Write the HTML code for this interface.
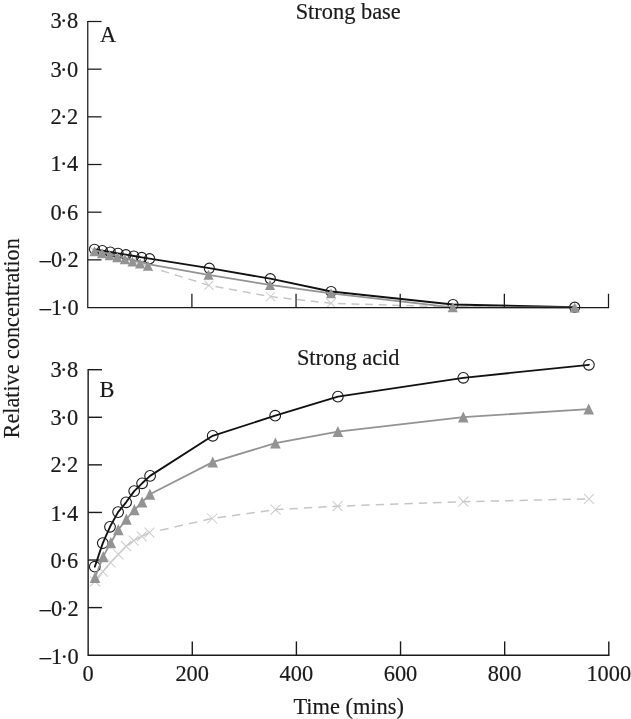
<!DOCTYPE html>
<html lang="en"><head><meta charset="utf-8"><title>Relative concentration vs time</title>
<style>
html,body{margin:0;padding:0;background:#fff;}
body{width:631px;height:719px;overflow:hidden;}
svg{display:block;}
text{font-family:"Liberation Serif","DejaVu Serif",serif;font-size:22.4px;fill:#1a1a1a;stroke:#1a1a1a;stroke-width:0.18px;}
</style></head><body>
<svg width="631" height="719" viewBox="0 0 631 719">
<rect x="0" y="0" width="631" height="719" fill="#ffffff"/>
<g fill="none" stroke="#c6c6c6" stroke-width="1.5">
<polyline points="94.5,251.2 102.1,253.2 109.7,255.2 117.3,257.3 124.9,259.3 132.5,261.4 140.1,263.5 148.0,266.5"/>
<path d="M161.1,270.5 L169.0,272.9 M174.7,274.7 L182.6,277.1 M188.3,278.9 L196.2,281.3 M201.9,283.1 L208.9,285.2 L209.8,285.4 M215.5,286.4 L223.4,287.9 M229.1,288.9 L237.0,290.4 M242.7,291.4 L250.6,292.9 M256.3,294.0 L264.2,295.4 M269.9,296.5 L270.6,296.6 L277.8,297.4 M283.5,298.0 L291.4,298.9 M297.1,299.5 L305.0,300.4 M310.7,301.0 L318.6,301.9 M324.3,302.6 L331.0,303.3 L332.2,303.3 M337.9,303.5 L345.8,303.8 M351.5,303.9 L359.4,304.2 M365.1,304.3 L373.0,304.6 M378.7,304.8 L386.6,305.0 M392.3,305.2 L400.2,305.4 M405.9,305.6 L413.8,305.8 M419.5,306.0 L427.4,306.2 M433.1,306.4 L441.0,306.7 M446.7,306.8 L452.4,307.0 L454.6,307.0 M460.3,307.0 L468.2,307.1 M473.9,307.1 L481.8,307.1 M487.5,307.1 L495.4,307.2 M501.1,307.2 L509.0,307.2 M514.7,307.3 L522.6,307.3 M528.3,307.3 L536.2,307.3 M541.9,307.4 L549.8,307.4 M555.5,307.4 L563.4,307.5 M569.1,307.5 L574.6,307.5"/>
</g>
<g fill="none" stroke="#cecece" stroke-width="1.05">
<path d="M89.9,246.6 l9.2,9.2 M89.9,255.8 l9.2,-9.2"/>
<path d="M97.5,248.6 l9.2,9.2 M97.5,257.8 l9.2,-9.2"/>
<path d="M105.1,250.6 l9.2,9.2 M105.1,259.8 l9.2,-9.2"/>
<path d="M112.7,252.7 l9.2,9.2 M112.7,261.9 l9.2,-9.2"/>
<path d="M120.3,254.7 l9.2,9.2 M120.3,263.9 l9.2,-9.2"/>
<path d="M127.9,256.8 l9.2,9.2 M127.9,266.0 l9.2,-9.2"/>
<path d="M135.5,258.9 l9.2,9.2 M135.5,268.1 l9.2,-9.2"/>
<path d="M143.4,261.9 l9.2,9.2 M143.4,271.1 l9.2,-9.2"/>
<path d="M204.3,280.6 l9.2,9.2 M204.3,289.8 l9.2,-9.2"/>
<path d="M266.0,292.0 l9.2,9.2 M266.0,301.2 l9.2,-9.2"/>
<path d="M326.4,298.7 l9.2,9.2 M326.4,307.9 l9.2,-9.2"/>
<path d="M447.8,302.4 l9.2,9.2 M447.8,311.6 l9.2,-9.2"/>
<path d="M570.0,302.9 l9.2,9.2 M570.0,312.1 l9.2,-9.2"/>
</g>
<polyline points="94.5,249.3 102.4,250.6 110.2,252.0 118.0,253.3 125.9,254.7 133.8,256.0 141.7,257.4 149.6,258.7 209.3,268.2 270.3,278.7 331.1,291.5 453.0,304.5 574.7,307.2" fill="none" stroke="#111" stroke-width="1.85" stroke-linejoin="round" stroke-linecap="round"/>
<g fill="none" stroke="#1a1a1a" stroke-width="1.1">
<circle cx="94.5" cy="249.3" r="5.05"/>
<circle cx="102.4" cy="250.6" r="5.05"/>
<circle cx="110.2" cy="252.0" r="5.05"/>
<circle cx="118.0" cy="253.3" r="5.05"/>
<circle cx="125.9" cy="254.7" r="5.05"/>
<circle cx="133.8" cy="256.0" r="5.05"/>
<circle cx="141.7" cy="257.4" r="5.05"/>
<circle cx="149.6" cy="258.7" r="5.05"/>
<circle cx="209.3" cy="268.2" r="5.05"/>
<circle cx="270.3" cy="278.7" r="5.05"/>
<circle cx="331.1" cy="291.5" r="5.05"/>
<circle cx="453.0" cy="304.5" r="5.05"/>
<circle cx="574.7" cy="307.2" r="5.05"/>
</g>
<polyline points="94.5,250.2 102.1,252.1 109.7,254.0 117.3,256.0 124.9,257.9 132.5,259.9 140.1,261.9 148.0,264.1 208.5,274.8 270.0,284.9 331.0,293.3 452.8,307.3 574.7,307.5" fill="none" stroke="#939393" stroke-width="1.75" stroke-linejoin="round"/>
<g fill="none" stroke="#1a1a1a" stroke-width="1.25" stroke-linecap="butt">
<path d="M87.75,20.88 V307.52 H609.12"/>
<path d="M87.75,21.50 h13.8"/>
<path d="M87.75,69.17 h13.8"/>
<path d="M87.75,116.84 h13.8"/>
<path d="M87.75,164.51 h13.8"/>
<path d="M87.75,212.18 h13.8"/>
<path d="M87.75,259.85 h13.8"/>
<path d="M191.90,307.52 v-13.8"/>
<path d="M296.05,307.52 v-13.8"/>
<path d="M400.20,307.52 v-13.8"/>
<path d="M504.35,307.52 v-13.8"/>
<path d="M608.50,307.52 v-13.8"/>
</g>
<g text-anchor="end">
<text x="78.3" y="28.2">3<tspan dx="-1.7">·</tspan><tspan dx="-0.3">8</tspan></text>
<text x="78.3" y="77.0">3<tspan dx="-1.7">·</tspan><tspan dx="-0.3">0</tspan></text>
<text x="78.3" y="123.8">2<tspan dx="-1.7">·</tspan><tspan dx="-0.3">2</tspan></text>
<text x="78.3" y="171.3">1<tspan dx="-1.7">·</tspan><tspan dx="-0.3">4</tspan></text>
<text x="78.3" y="219.9">0<tspan dx="-1.7">·</tspan><tspan dx="-0.3">6</tspan></text>
<text x="78.8" y="267.2">–0<tspan dx="-1.7">·</tspan><tspan dx="-0.3">2</tspan></text>
<text x="78.8" y="314.8">–1<tspan dx="-1.7">·</tspan><tspan dx="-0.3">0</tspan></text>
</g>
<g fill="#939393">
<path d="M94.5,246.2 l5.00,10.0 h-10.00 z"/>
<path d="M102.1,248.2 l5.00,10.0 h-10.00 z"/>
<path d="M109.7,250.2 l5.00,10.0 h-10.00 z"/>
<path d="M117.3,252.3 l5.00,10.0 h-10.00 z"/>
<path d="M124.9,254.3 l5.00,10.0 h-10.00 z"/>
<path d="M132.5,256.4 l5.00,10.0 h-10.00 z"/>
<path d="M140.1,258.5 l5.00,10.0 h-10.00 z"/>
<path d="M148.0,260.8 l5.00,10.0 h-10.00 z"/>
<path d="M208.5,269.8 l5.00,10.0 h-10.00 z"/>
<path d="M270.0,279.9 l5.00,10.0 h-10.00 z"/>
<path d="M331.0,288.3 l5.00,10.0 h-10.00 z"/>
<path d="M452.8,302.3 l5.00,10.0 h-10.00 z"/>
<path d="M574.7,302.5 l5.00,10.0 h-10.00 z"/>
</g>
<g fill="none" stroke="#c6c6c6" stroke-width="1.5">
<polyline points="95.0,581.4 102.8,571.7 110.6,562.5 118.4,554.3 126.0,546.2 133.7,540.6 141.7,536.4 149.4,532.7"/>
<path d="M160.2,530.3 L168.5,528.4 M174.6,527.0 L182.9,525.1 M188.9,523.8 L197.2,521.9 M203.3,520.5 L211.6,518.6 M217.7,517.7 L226.0,516.6 M232.0,515.7 L240.3,514.5 M246.4,513.7 L254.7,512.5 M260.8,511.7 L269.1,510.5 M275.2,509.7 L275.6,509.6 L283.5,509.2 M289.5,508.8 L297.8,508.4 M303.9,508.0 L312.2,507.6 M318.3,507.3 L326.6,506.8 M332.6,506.5 L337.6,506.2 L340.9,506.1 M347.0,505.9 L355.3,505.6 M361.4,505.3 L369.7,505.1 M375.8,504.8 L384.1,504.5 M390.1,504.3 L398.4,504.0 M404.5,503.8 L412.8,503.5 M418.9,503.3 L427.2,503.0 M433.2,502.8 L441.5,502.5 M447.6,502.3 L455.9,502.0 M462.0,501.7 L463.3,501.7 L470.3,501.5 M476.3,501.4 L484.6,501.2 M490.7,501.1 L499.0,500.9 M505.1,500.8 L513.4,500.6 M519.5,500.4 L527.8,500.3 M533.8,500.1 L542.1,499.9 M548.2,499.8 L556.5,499.6 M562.6,499.5 L570.9,499.3 M576.9,499.2 L585.2,499.0"/>
</g>
<g fill="none" stroke="#cecece" stroke-width="1.05">
<path d="M90.0,576.4 l10.0,10.0 M90.0,586.4 l10.0,-10.0"/>
<path d="M97.8,566.7 l10.0,10.0 M97.8,576.7 l10.0,-10.0"/>
<path d="M105.6,557.5 l10.0,10.0 M105.6,567.5 l10.0,-10.0"/>
<path d="M113.4,549.3 l10.0,10.0 M113.4,559.3 l10.0,-10.0"/>
<path d="M121.0,541.2 l10.0,10.0 M121.0,551.2 l10.0,-10.0"/>
<path d="M128.7,535.6 l10.0,10.0 M128.7,545.6 l10.0,-10.0"/>
<path d="M136.7,531.4 l10.0,10.0 M136.7,541.4 l10.0,-10.0"/>
<path d="M144.4,527.7 l10.0,10.0 M144.4,537.7 l10.0,-10.0"/>
<path d="M207.2,513.5 l10.0,10.0 M207.2,523.5 l10.0,-10.0"/>
<path d="M270.6,504.6 l10.0,10.0 M270.6,514.6 l10.0,-10.0"/>
<path d="M332.6,501.2 l10.0,10.0 M332.6,511.2 l10.0,-10.0"/>
<path d="M458.3,496.7 l10.0,10.0 M458.3,506.7 l10.0,-10.0"/>
<path d="M584.0,493.9 l10.0,10.0 M584.0,503.9 l10.0,-10.0"/>
</g>
<polyline points="94.8,566.7 102.8,543.1 110.0,526.8 118.1,512.1 126.1,502.3 134.2,491.1 142.1,483.3 150.1,475.9 212.7,435.8 275.2,415.7 337.9,396.6 463.3,377.8 588.9,364.8" fill="none" stroke="#111" stroke-width="1.85" stroke-linejoin="round" stroke-linecap="round"/>
<g fill="none" stroke="#1a1a1a" stroke-width="1.1">
<circle cx="94.8" cy="566.7" r="5.35"/>
<circle cx="102.8" cy="543.1" r="5.35"/>
<circle cx="110.0" cy="526.8" r="5.35"/>
<circle cx="118.1" cy="512.1" r="5.35"/>
<circle cx="126.1" cy="502.3" r="5.35"/>
<circle cx="134.2" cy="491.1" r="5.35"/>
<circle cx="142.1" cy="483.3" r="5.35"/>
<circle cx="150.1" cy="475.9" r="5.35"/>
<circle cx="212.7" cy="435.8" r="5.35"/>
<circle cx="275.2" cy="415.7" r="5.35"/>
<circle cx="337.9" cy="396.6" r="5.35"/>
<circle cx="463.3" cy="377.8" r="5.35"/>
<circle cx="588.9" cy="364.8" r="5.35"/>
</g>
<polyline points="95.0,577.5 103.2,556.7 110.8,542.7 118.3,529.8 126.4,519.3 134.4,509.8 142.1,502.1 149.9,494.3 212.7,462.1 275.4,443.1 337.9,431.6 463.3,417.1 588.7,409.1" fill="none" stroke="#939393" stroke-width="1.75" stroke-linejoin="round"/>
<g fill="none" stroke="#1a1a1a" stroke-width="1.4" stroke-linecap="butt">
<path d="M88.15,369.00 V655.18 H609.50"/>
<path d="M88.15,369.70 h13.8"/>
<path d="M88.15,417.28 h13.8"/>
<path d="M88.15,464.86 h13.8"/>
<path d="M88.15,512.44 h13.8"/>
<path d="M88.15,560.02 h13.8"/>
<path d="M88.15,607.60 h13.8"/>
<path d="M192.28,655.18 v-13.8"/>
<path d="M296.41,655.18 v-13.8"/>
<path d="M400.54,655.18 v-13.8"/>
<path d="M504.67,655.18 v-13.8"/>
<path d="M608.80,655.18 v-13.8"/>
</g>
<g text-anchor="end">
<text x="78.3" y="377.3">3<tspan dx="-1.7">·</tspan><tspan dx="-0.3">8</tspan></text>
<text x="78.3" y="425.3">3<tspan dx="-1.7">·</tspan><tspan dx="-0.3">0</tspan></text>
<text x="78.3" y="472.4">2<tspan dx="-1.7">·</tspan><tspan dx="-0.3">2</tspan></text>
<text x="78.3" y="520.8">1<tspan dx="-1.7">·</tspan><tspan dx="-0.3">4</tspan></text>
<text x="78.3" y="568.0">0<tspan dx="-1.7">·</tspan><tspan dx="-0.3">6</tspan></text>
<text x="78.8" y="615.6">–0<tspan dx="-1.7">·</tspan><tspan dx="-0.3">2</tspan></text>
<text x="78.8" y="663.8">–1<tspan dx="-1.7">·</tspan><tspan dx="-0.3">0</tspan></text>
</g>
<g fill="#939393">
<path d="M95.0,571.8 l5.30,11.2 h-10.60 z"/>
<path d="M103.2,551.0 l5.30,11.2 h-10.60 z"/>
<path d="M110.8,537.0 l5.30,11.2 h-10.60 z"/>
<path d="M118.3,524.1 l5.30,11.2 h-10.60 z"/>
<path d="M126.4,513.6 l5.30,11.2 h-10.60 z"/>
<path d="M134.4,504.1 l5.30,11.2 h-10.60 z"/>
<path d="M142.1,496.4 l5.30,11.2 h-10.60 z"/>
<path d="M149.9,488.6 l5.30,11.2 h-10.60 z"/>
<path d="M212.7,456.4 l5.30,11.2 h-10.60 z"/>
<path d="M275.4,437.4 l5.30,11.2 h-10.60 z"/>
<path d="M337.9,425.9 l5.30,11.2 h-10.60 z"/>
<path d="M463.3,411.4 l5.30,11.2 h-10.60 z"/>
<path d="M588.7,403.4 l5.30,11.2 h-10.60 z"/>
</g>
<g text-anchor="middle">
<text x="88.0" y="680.5">0</text>
<text x="192.2" y="680.5">200</text>
<text x="296.3" y="680.5">400</text>
<text x="400.5" y="680.5">600</text>
<text x="504.6" y="680.5">800</text>
<text x="608.8" y="680.5">1000</text>
</g>
<text x="100.1" y="42.2">A</text>
<text x="99.4" y="397.2">B</text>
<text x="348.2" y="18.6" text-anchor="middle">Strong base</text>
<text x="348.2" y="364.9" text-anchor="middle">Strong acid</text>
<text x="348.7" y="713.8" text-anchor="middle">Time (mins)</text>
<text transform="translate(19.1 338.3) rotate(-90)" text-anchor="middle" style="font-size:22.2px">Relative concentration</text>
</svg>
</body></html>
